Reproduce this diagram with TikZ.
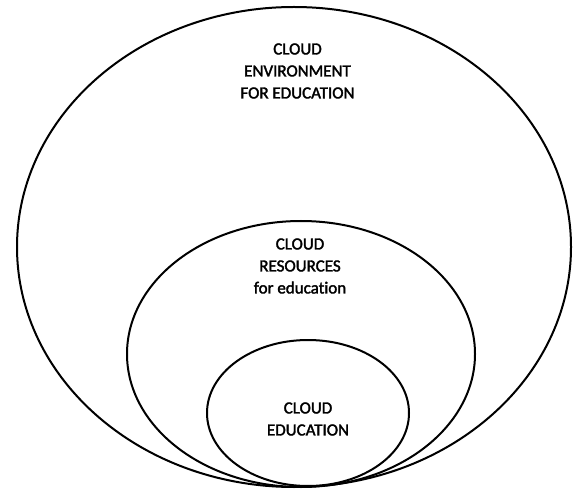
\documentclass[tikz,border=0pt]{standalone}
\usepackage{fontspec}
\setmainfont{Carlito}
\newfontfamily\lblfont[FakeBold=2,Ligatures={NoCommon}]{Carlito}
\usetikzlibrary{shapes.geometric}
\begin{document}
\begin{tikzpicture}[x=1pt,y=-1pt,
  ell/.style={draw=black, line width=2pt, ellipse, inner sep=0pt},
  lbl/.style={align=center, font=\lblfont\fontsize{17}{22}\selectfont, inner sep=0pt}]
\useasboundingbox (0,0) rectangle (573,489);
\node[ell, minimum width=554pt, minimum height=480pt] (outer) at (294,247) {};
\node[ell, minimum width=348pt, minimum height=266pt] (middle) at (301,354) {};
\node[ell, minimum width=202pt, minimum height=146pt] (inner) at (308,413) {};
\node[lbl] (t1) at (297.5,71) {CLOUD\\ENVIRONMENT\\FOR EDUCATION};
\node[lbl] (t2) at (300,266) {CLOUD\\RESOURCES\\for education};
\node[lbl] (t3) at (308,419) {CLOUD\\EDUCATION};
\end{tikzpicture}
\end{document}
